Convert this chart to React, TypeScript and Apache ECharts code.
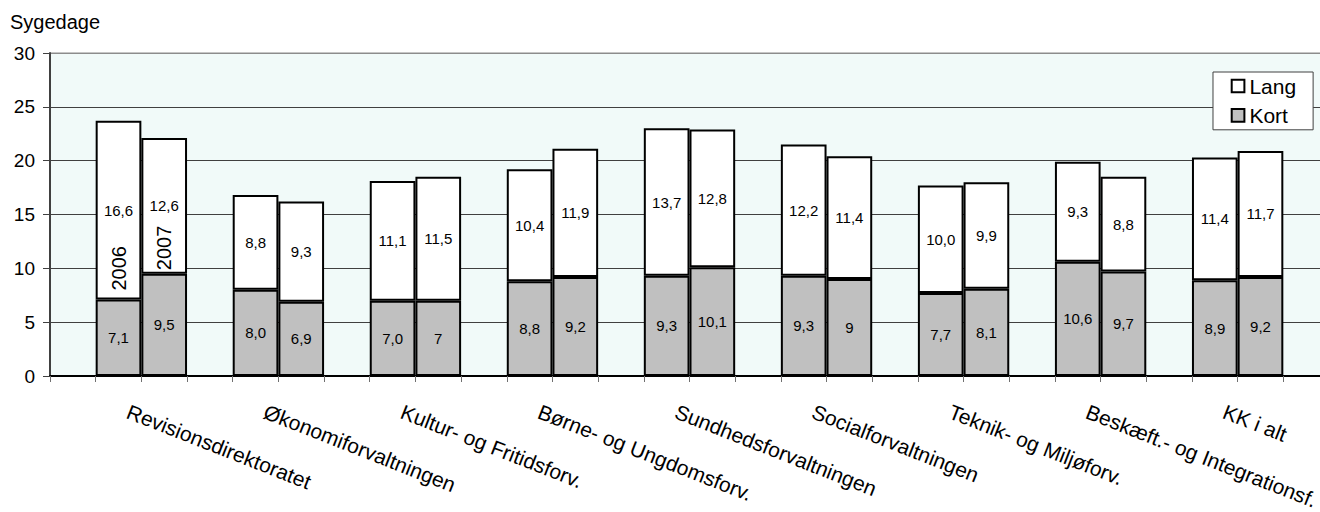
import React, { useEffect, useRef } from "react";
import * as echarts from "echarts";

const groups = [
  "Revisionsdirektoratet",
  "Økonomiforvaltningen",
  "Kultur- og Fritidsforv.",
  "Børne- og Ungdomsforv.",
  "Sundhedsforvaltningen",
  "Socialforvaltningen",
  "Teknik- og Miljøforv.",
  "Beskæft.- og Integrationsf.",
  "KK i alt",
];
const years = ["2006", "2007"];
const kort2006 = ["7,1", "8,0", "7,0", "8,8", "9,3", "9,3", "7,7", "10,6", "8,9"];
const kort2007 = ["9,5", "6,9", "7", "9,2", "10,1", "9", "8,1", "9,7", "9,2"];
const lang2006 = ["16,6", "8,8", "11,1", "10,4", "13,7", "12,2", "10,0", "9,3", "11,4"];
const lang2007 = ["12,6", "9,3", "11,5", "11,9", "12,8", "11,4", "9,9", "8,8", "11,7"];
const yearLabelValues = [10.0, 11.9];
const yTicks = { min: 0, max: 30, interval: 5 };

const FONT = "Liberation Sans, Arial, Helvetica, sans-serif";
const SLOTS = groups.length * 3 + 1;

const num = (s: string) => Number(s.replace(",", "."));

function buildSlots(a2006: string[], a2007: string[]) {
  const out: any[] = [];
  for (let i = 0; i < SLOTS; i++) out.push(null);
  groups.forEach((_, i) => {
    out[3 * i + 1] = { value: num(a2006[i]), txt: a2006[i] };
    out[3 * i + 2] = { value: num(a2007[i]), txt: a2007[i] };
  });
  return out;
}

const slotLabels: string[] = [];
for (let i = 0; i < SLOTS; i++) slotLabels.push("");
groups.forEach((g, i) => {
  slotLabels[3 * i + 1] = g;
});

export default function App() {
  const ref = useRef<HTMLDivElement>(null);
  useEffect(() => {
    document.body.style.margin = "0";
    document.body.style.overflow = "hidden";
    const chart = echarts.init(ref.current!, undefined, { renderer: "svg" });
    const barLabel = {
      show: true,
      position: "inside",
      color: "#000",
      fontSize: 15,
      fontFamily: FONT,
      formatter: (p: any) => (p.data ? p.data.txt : ""),
    };
    chart.setOption({
      animation: false,
      backgroundColor: "#fff",
      title: {
        text: "Sygedage",
        left: 10,
        top: 12,
        padding: 0,
        textStyle: { fontSize: 20, fontWeight: "normal", color: "#000", fontFamily: FONT },
      },
      legend: {
        data: ["Lang", "Kort"],
        orient: "vertical",
        left: 1213,
        top: 72,
        backgroundColor: "#fff",
        borderColor: "#404040",
        borderWidth: 1,
        borderRadius: 0,
        padding: [3.5, 17, 4, 17.7],
        itemGap: 8.3,
        itemWidth: 12.7,
        itemHeight: 12.7,
        icon: "rect",
        itemStyle: { borderColor: "#000", borderWidth: 2 },
        textStyle: { fontSize: 21, color: "#000", fontFamily: FONT },
      },
      grid: {
        left: 50,
        top: 53,
        bottom: 136,
        right: -9,
        show: true,
        backgroundColor: "#F1FAF9",
        borderColor: "#8c8c8c",
        borderWidth: 1,
        containLabel: false,
        outerBoundsMode: "none",
      },
      xAxis: {
        type: "category",
        data: slotLabels,
        boundaryGap: true,
        axisLine: { show: true, lineStyle: { color: "#000", width: 2 } },
        axisTick: { show: true, interval: 0, length: 6, lineStyle: { color: "#707070", width: 1 } },
        axisLabel: {
          interval: 0,
          rotate: -21.5,
          margin: 31,
          padding: [0, 0, 0, 10],
          fontSize: 21,
          color: "#000",
          fontFamily: FONT,
        },
        splitLine: { show: false },
      },
      yAxis: {
        type: "value",
        min: yTicks.min,
        max: yTicks.max,
        interval: yTicks.interval,
        axisLine: { show: true, lineStyle: { color: "#404040", width: 2 } },
        axisTick: { show: true, length: 7, lineStyle: { color: "#404040", width: 1 } },
        axisLabel: { fontSize: 19, margin: 15, color: "#000", fontFamily: FONT },
        splitLine: {
          show: true,
          lineStyle: {
            color: ["#404040", "#404040", "#404040", "#404040", "#404040", "#404040", "#8c8c8c"],
            width: 1,
          },
        },
      },
      series: [
        {
          name: "Kort",
          type: "bar",
          stack: "total",
          data: buildSlots(kort2006, kort2007),
          barCategoryGap: "0%",
          itemStyle: { color: "#C0C0C0", borderColor: "#000", borderWidth: 2 },
          label: barLabel,
        },
        {
          name: "Lang",
          type: "bar",
          stack: "total",
          data: buildSlots(lang2006, lang2007),
          barCategoryGap: "0%",
          itemStyle: { color: "#FFFFFF", borderColor: "#000", borderWidth: 2 },
          label: barLabel,
        },
        {
          name: "År",
          type: "scatter",
          symbolSize: 0,
          itemStyle: { opacity: 1 },
          data: years.map((y, i) => ({ value: [i + 1, yearLabelValues[i]], txt: y })),
          label: {
            show: true,
            position: "inside",
            rotate: 90,
            color: "#000",
            opacity: 1,
            fontSize: 20,
            fontFamily: FONT,
            formatter: (p: any) => p.data.txt,
          },
          z: 10,
        },
      ],
    });
    return () => chart.dispose();
  }, []);
  return <div ref={ref} style={{ width: 1320, height: 512 }} />;
}
